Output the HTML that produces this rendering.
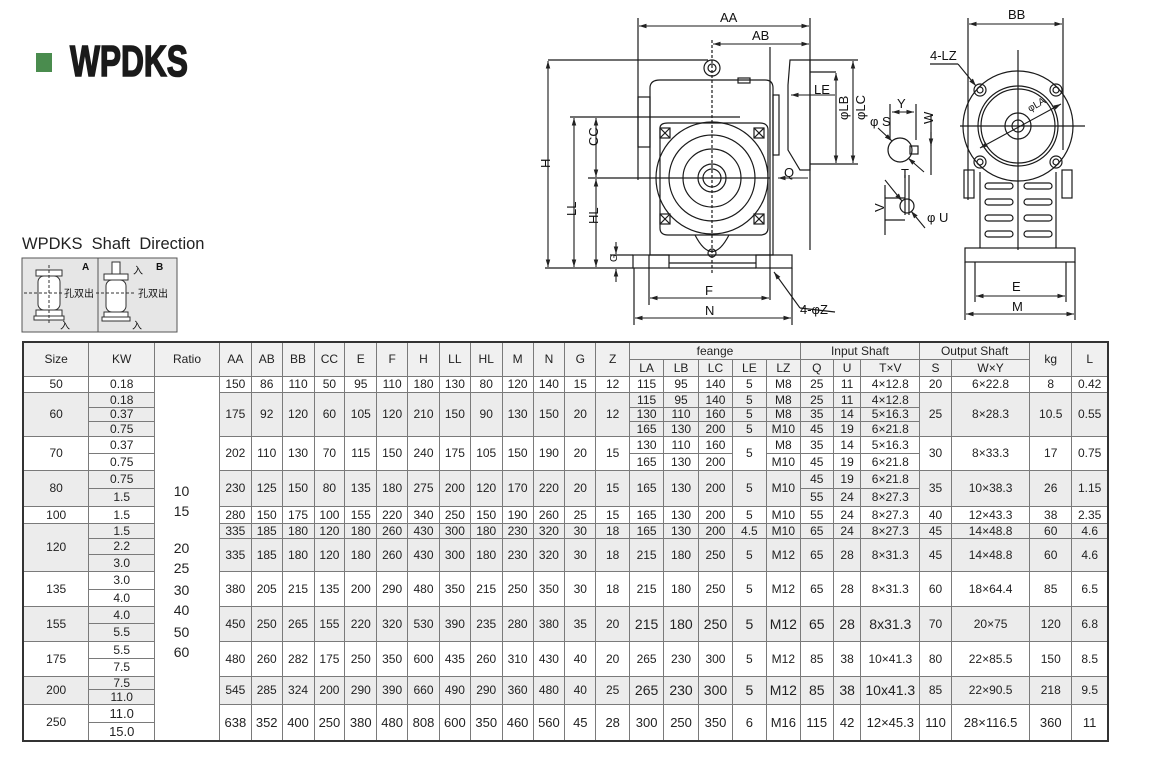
<!DOCTYPE html>
<html><head><meta charset="utf-8">
<style>
html,body{margin:0;padding:0;background:#fff;}
body{width:1150px;height:770px;position:relative;overflow:hidden;font-family:"Liberation Sans","Noto Sans CJK SC",sans-serif;color:#222;}
.abs{position:absolute;}
table{position:absolute;left:22px;top:341px;width:1087px;border-collapse:collapse;table-layout:fixed;border:2px solid #333;}
td{border:1px solid #7a7a7a;padding:0;text-align:center;vertical-align:middle;font-size:12px;line-height:1;white-space:nowrap;overflow:hidden;}
td.gg{background:#ececec;}
.hd td{background:#f0f0f0;}
td.big{font-size:14px;}
td.m{font-size:13px;}
.rt{position:absolute;left:150px;width:63px;text-align:center;font-size:14px;}
</style></head><body>

<div class="abs" style="left:36px;top:53px;width:16px;height:19px;background:#4a8c4e;"></div>
<div class="abs" style="left:70px;top:37px;font-size:44px;font-weight:bold;color:#1a1a1a;transform:scaleX(0.72);transform-origin:0 0;-webkit-text-stroke:1.6px #1a1a1a;">WPDKS</div>

<div class="abs" style="left:22px;top:235px;font-size:16.5px;">WPDKS&nbsp;&nbsp;Shaft&nbsp;&nbsp;Direction</div>
<svg class="abs" style="left:0;top:0" width="1150" height="340" viewBox="0 0 1150 340">
 <defs>
  <marker id="a" viewBox="0 0 10 10" refX="10" refY="5" markerWidth="7" markerHeight="7" orient="auto-start-reverse"><path d="M0 2 L10 5 L0 8 Z" fill="#222"/></marker>
 </defs>
 <g fill="none" stroke="#333" stroke-width="1">
  <rect x="22" y="258" width="155" height="74" fill="#e6e6e6" stroke="#555"/>
  <line x1="98" y1="258" x2="98" y2="332" stroke="#555"/>
  <rect x="36" y="270" width="26" height="6" fill="#fff"/>
  <rect x="38" y="276" width="22" height="34" rx="6" fill="#fff"/>
  <rect x="36" y="310" width="26" height="6" fill="#fff"/>
  <rect x="34" y="316" width="30" height="4" fill="#fff"/>
  <line x1="24" y1="293" x2="64" y2="293" stroke-dasharray="3,2"/>
  <line x1="49" y1="265" x2="49" y2="324" stroke-dasharray="3,2"/>
  <rect x="112" y="262" width="8" height="12" fill="#fff"/>
  <rect x="104" y="274" width="24" height="6" fill="#fff"/>
  <rect x="106" y="280" width="20" height="32" rx="6" fill="#fff"/>
  <rect x="104" y="312" width="24" height="5" fill="#fff"/>
  <rect x="102" y="317" width="28" height="4" fill="#fff"/>
  <line x1="96" y1="293" x2="136" y2="293" stroke-dasharray="3,2"/>
 </g>
 <g font-size="10" fill="#111" font-family="Liberation Sans,Noto Sans CJK SC,sans-serif">
  <text x="82" y="270" font-weight="bold">A</text>
  <text x="156" y="270" font-weight="bold">B</text>
  <text x="64" y="297">孔双出</text>
  <text x="138" y="297">孔双出</text>
  <text x="60" y="329">入</text>
  <text x="133" y="274">入</text>
  <text x="132" y="329">入</text>
 </g>

 <g fill="none" stroke="#1a1a1a" stroke-width="1.2">
  <line x1="638" y1="18" x2="638" y2="180"/>
  <line x1="810" y1="18" x2="810" y2="250"/>
  <line x1="770" y1="47" x2="770" y2="300"/>
  <line x1="712" y1="40" x2="712" y2="275" stroke-dasharray="3,2"/>
  <circle cx="712" cy="68" r="8"/><circle cx="712" cy="68" r="4"/>
  <rect x="738" y="78" width="12" height="5"/>
  <path d="M650 88 Q650 80 660 80 L765 80 Q773 80 773 88 L773 255 L650 255 Z"/>
  <rect x="638" y="97" width="12" height="50"/>
  <rect x="773" y="95" width="6" height="60"/>
  <path d="M790 60 L810 60 L810 170 L800 170 L788 150 L788 85 Z"/>
  <path d="M660 128 Q660 123 668 123 L760 123 Q768 123 768 130 L768 228 Q768 235 760 235 L668 235 Q660 235 660 228 Z"/>
  <circle cx="712" cy="178" r="56"/>
  <circle cx="712" cy="178" r="43"/>
  <circle cx="712" cy="178" r="29"/>
  <circle cx="712" cy="178" r="14"/>
  <circle cx="712" cy="178" r="9"/>
  <g>
   <rect x="660" y="128" width="10" height="10"/><line x1="660" y1="128" x2="670" y2="138"/><line x1="670" y1="128" x2="660" y2="138"/>
   <rect x="754" y="128" width="10" height="10"/><line x1="754" y1="128" x2="764" y2="138"/><line x1="764" y1="128" x2="754" y2="138"/>
   <rect x="660" y="214" width="10" height="10"/><line x1="660" y1="214" x2="670" y2="224"/><line x1="670" y1="214" x2="660" y2="224"/>
   <rect x="754" y="214" width="10" height="10"/><line x1="754" y1="214" x2="764" y2="224"/><line x1="764" y1="214" x2="754" y2="224"/>
  </g>
  <path d="M695 235 Q712 268 729 235"/>
  <circle cx="712" cy="253" r="4"/>
  <rect x="633" y="255" width="36" height="13"/>
  <rect x="756" y="255" width="36" height="13"/>
  <line x1="669" y1="263" x2="756" y2="263"/><line x1="669" y1="268" x2="756" y2="268"/>
  <line x1="548" y1="60" x2="708" y2="60"/>
  <line x1="570" y1="117" x2="740" y2="117"/>
  <line x1="588" y1="178" x2="770" y2="178"/>
  <line x1="545" y1="268" x2="633" y2="268"/>
  <line x1="610" y1="255" x2="633" y2="255"/>
  <line x1="649" y1="255" x2="649" y2="305"/>
  <line x1="634" y1="268" x2="634" y2="325"/>
  <line x1="792" y1="268" x2="792" y2="325"/>
  <line x1="800" y1="308" x2="835" y2="312"/>
  <line x1="810" y1="60" x2="858" y2="60"/>
  <line x1="810" y1="164" x2="858" y2="164"/>
  <line x1="836" y1="72" x2="810" y2="72"/>
  <circle cx="900" cy="150" r="12"/>
  <rect x="910" y="146" width="8" height="8"/>
  <line x1="890" y1="104" x2="890" y2="140"/><line x1="916" y1="104" x2="916" y2="140"/>
  <line x1="931" y1="115" x2="931" y2="175"/>
  <circle cx="907" cy="206" r="7"/>
  <line x1="905" y1="175" x2="905" y2="215"/><line x1="909" y1="175" x2="909" y2="215"/>
  <line x1="885" y1="198" x2="905" y2="198"/><line x1="885" y1="220" x2="905" y2="220"/>
  <line x1="885" y1="185" x2="885" y2="235"/>
  <line x1="968" y1="18" x2="968" y2="200"/><line x1="1063" y1="18" x2="1063" y2="150"/>
  <circle cx="1018" cy="126" r="55"/>
  <circle cx="1018" cy="126" r="40"/>
  <circle cx="1018" cy="126" r="37"/>
  <circle cx="1018" cy="126" r="13"/>
  <circle cx="1018" cy="126" r="6"/>
  <line x1="960" y1="126" x2="1085" y2="126"/>
  <line x1="1018" y1="50" x2="1018" y2="250"/>
  <circle cx="980" cy="90" r="6"/><circle cx="980" cy="90" r="3"/>
  <circle cx="1056" cy="90" r="6"/><circle cx="1056" cy="90" r="3"/>
  <circle cx="980" cy="162" r="6"/><circle cx="980" cy="162" r="3"/>
  <circle cx="1056" cy="162" r="6"/><circle cx="1056" cy="162" r="3"/>
  <line x1="930" y1="64" x2="958" y2="64"/>
  <path d="M980 172 L980 248 M1056 172 L1056 248"/>
  <rect x="964" y="170" width="10" height="28"/>
  <rect x="1062" y="170" width="10" height="28"/>
  <g>
   <rect x="985" y="183" width="28" height="6" rx="3"/><rect x="1024" y="183" width="28" height="6" rx="3"/>
   <rect x="985" y="199" width="28" height="6" rx="3"/><rect x="1024" y="199" width="28" height="6" rx="3"/>
   <rect x="985" y="215" width="28" height="6" rx="3"/><rect x="1024" y="215" width="28" height="6" rx="3"/>
   <rect x="985" y="231" width="28" height="6" rx="3"/><rect x="1024" y="231" width="28" height="6" rx="3"/>
  </g>
  <rect x="965" y="248" width="110" height="14"/>
  <line x1="965" y1="262" x2="965" y2="320"/><line x1="1075" y1="262" x2="1075" y2="320"/>
  <line x1="975" y1="262" x2="975" y2="302"/><line x1="1066" y1="262" x2="1066" y2="302"/>
 </g>
 <!-- dimension lines with arrowheads -->
 <g fill="none" stroke="#1a1a1a" stroke-width="1.1" marker-start="url(#a)" marker-end="url(#a)">
  <line x1="639" y1="26" x2="809" y2="26"/>
  <line x1="713" y1="44" x2="809" y2="44"/>
  <line x1="548" y1="61" x2="548" y2="267"/>
  <line x1="574" y1="118" x2="574" y2="267"/>
  <line x1="596" y1="118" x2="596" y2="177"/>
  <line x1="596" y1="179" x2="596" y2="267"/>
  <line x1="650" y1="298" x2="769" y2="298"/>
  <line x1="635" y1="318" x2="791" y2="318"/>
  <line x1="836" y1="73" x2="836" y2="163"/>
  <line x1="853" y1="61" x2="853" y2="163"/>
  <line x1="892" y1="112" x2="914" y2="112"/>
  <line x1="1061" y1="104" x2="980" y2="148"/>
  <line x1="969" y1="24" x2="1062" y2="24"/>
  <line x1="976" y1="296" x2="1065" y2="296"/>
  <line x1="966" y1="314" x2="1074" y2="314"/>
 </g>
 <g fill="none" stroke="#1a1a1a" stroke-width="1.1" marker-end="url(#a)">
  <line x1="616" y1="242" x2="616" y2="254"/>
  <line x1="616" y1="282" x2="616" y2="269"/>
  <line x1="800" y1="308" x2="774" y2="272"/>
  <line x1="835" y1="95" x2="791" y2="95"/>
  <line x1="808" y1="178" x2="778" y2="178"/>
  <line x1="878" y1="128" x2="892" y2="141"/>
  <line x1="924" y1="172" x2="908" y2="158"/>
  <line x1="931" y1="132" x2="931" y2="146"/>
  <line x1="885" y1="180" x2="902" y2="201"/>
  <line x1="925" y1="228" x2="911" y2="211"/>
  <line x1="958" y1="64" x2="976" y2="86"/>
 </g>
 <g font-size="13" fill="#111" font-family="Liberation Sans,sans-serif">
  <text x="720" y="22">AA</text>
  <text x="752" y="40">AB</text>
  <text x="546" y="172" transform="rotate(-90 546 168)">H</text>
  <text x="572" y="220" transform="rotate(-90 572 216)">LL</text>
  <text x="594" y="150" transform="rotate(-90 594 146)">CC</text>
  <text x="594" y="228" transform="rotate(-90 594 224)">HL</text>
  <text x="613" y="266" transform="rotate(-90 613 262)" font-size="10">G</text>
  <text x="705" y="295">F</text>
  <text x="705" y="315">N</text>
  <text x="800" y="314">4-φZ</text>
  <text x="814" y="94">LE</text>
  <text x="834" y="134" transform="rotate(-90 834 120)">φLB</text>
  <text x="851" y="134" transform="rotate(-90 851 120)">φLC</text>
  <text x="784" y="177">Q</text>
  <text x="897" y="108">Y</text>
  <text x="870" y="126">φ S</text>
  <text x="929" y="128" transform="rotate(-90 929 124)">W</text>
  <text x="901" y="178">T</text>
  <text x="880" y="216" transform="rotate(-90 880 212)">V</text>
  <text x="927" y="222">φ U</text>
  <text x="1008" y="19">BB</text>
  <text x="930" y="60">4-LZ</text>
  <text x="1030" y="112" font-size="10" transform="rotate(-30 1030 112)">φLA</text>
  <text x="1012" y="291">E</text>
  <text x="1012" y="311">M</text>
 </g>
</svg>

<table>
<colgroup>
<col style="width:64px"><col style="width:64px"><col style="width:63px">
<col style="width:31px"><col style="width:30px"><col style="width:31px"><col style="width:30px"><col style="width:31px"><col style="width:30px"><col style="width:31px"><col style="width:30px"><col style="width:31px"><col style="width:30px"><col style="width:31px"><col style="width:30px">
<col style="width:33px">
<col style="width:33px"><col style="width:34px"><col style="width:33px"><col style="width:33px"><col style="width:33px">
<col style="width:32px"><col style="width:27px"><col style="width:57px">
<col style="width:31px"><col style="width:76px"><col style="width:41px"><col style="width:35px">
</colgroup>
<tr class="hd" style="height:17px"><td rowspan="2">Size</td><td rowspan="2">KW</td><td rowspan="2">Ratio</td><td rowspan="2">AA</td><td rowspan="2">AB</td><td rowspan="2">BB</td><td rowspan="2">CC</td><td rowspan="2">E</td><td rowspan="2">F</td><td rowspan="2">H</td><td rowspan="2">LL</td><td rowspan="2">HL</td><td rowspan="2">M</td><td rowspan="2">N</td><td rowspan="2">G</td><td rowspan="2">Z</td><td colspan="5">feange</td><td colspan="3">Input Shaft</td><td colspan="2">Output Shaft</td><td rowspan="2">kg</td><td rowspan="2">L</td></tr>
<tr class="hd" style="height:17px"><td>LA</td><td>LB</td><td>LC</td><td>LE</td><td>LZ</td><td>Q</td><td>U</td><td>T×V</td><td>S</td><td>W×Y</td></tr>
<tr style="height:16px"><td>50</td><td>0.18</td><td rowspan="22" style="background:#fff"></td><td>150</td><td>86</td><td>110</td><td>50</td><td>95</td><td>110</td><td>180</td><td>130</td><td>80</td><td>120</td><td>140</td><td>15</td><td>12</td><td>115</td><td>95</td><td>140</td><td>5</td><td>M8</td><td>25</td><td>11</td><td>4×12.8</td><td>20</td><td>6×22.8</td><td>8</td><td>0.42</td></tr>
<tr style="height:15px"><td rowspan="3" class="gg">60</td><td class="gg">0.18</td><td rowspan="3" class="gg">175</td><td rowspan="3" class="gg">92</td><td rowspan="3" class="gg">120</td><td rowspan="3" class="gg">60</td><td rowspan="3" class="gg">105</td><td rowspan="3" class="gg">120</td><td rowspan="3" class="gg">210</td><td rowspan="3" class="gg">150</td><td rowspan="3" class="gg">90</td><td rowspan="3" class="gg">130</td><td rowspan="3" class="gg">150</td><td rowspan="3" class="gg">20</td><td rowspan="3" class="gg">12</td><td class="gg">115</td><td class="gg">95</td><td class="gg">140</td><td class="gg">5</td><td class="gg">M8</td><td class="gg">25</td><td class="gg">11</td><td class="gg">4×12.8</td><td rowspan="3" class="gg">25</td><td rowspan="3" class="gg">8×28.3</td><td rowspan="3" class="gg">10.5</td><td rowspan="3" class="gg">0.55</td></tr>
<tr style="height:14px"><td class="gg">0.37</td><td class="gg">130</td><td class="gg">110</td><td class="gg">160</td><td class="gg">5</td><td class="gg">M8</td><td class="gg">35</td><td class="gg">14</td><td class="gg">5×16.3</td></tr>
<tr style="height:15px"><td class="gg">0.75</td><td class="gg">165</td><td class="gg">130</td><td class="gg">200</td><td class="gg">5</td><td class="gg">M10</td><td class="gg">45</td><td class="gg">19</td><td class="gg">6×21.8</td></tr>
<tr style="height:17px"><td rowspan="2">70</td><td>0.37</td><td rowspan="2">202</td><td rowspan="2">110</td><td rowspan="2">130</td><td rowspan="2">70</td><td rowspan="2">115</td><td rowspan="2">150</td><td rowspan="2">240</td><td rowspan="2">175</td><td rowspan="2">105</td><td rowspan="2">150</td><td rowspan="2">190</td><td rowspan="2">20</td><td rowspan="2">15</td><td>130</td><td>110</td><td>160</td><td rowspan="2">5</td><td>M8</td><td>35</td><td>14</td><td>5×16.3</td><td rowspan="2">30</td><td rowspan="2">8×33.3</td><td rowspan="2">17</td><td rowspan="2">0.75</td></tr>
<tr style="height:17px"><td>0.75</td><td>165</td><td>130</td><td>200</td><td>M10</td><td>45</td><td>19</td><td>6×21.8</td></tr>
<tr style="height:18px"><td rowspan="2" class="gg">80</td><td class="gg">0.75</td><td rowspan="2" class="gg">230</td><td rowspan="2" class="gg">125</td><td rowspan="2" class="gg">150</td><td rowspan="2" class="gg">80</td><td rowspan="2" class="gg">135</td><td rowspan="2" class="gg">180</td><td rowspan="2" class="gg">275</td><td rowspan="2" class="gg">200</td><td rowspan="2" class="gg">120</td><td rowspan="2" class="gg">170</td><td rowspan="2" class="gg">220</td><td rowspan="2" class="gg">20</td><td rowspan="2" class="gg">15</td><td rowspan="2" class="gg">165</td><td rowspan="2" class="gg">130</td><td rowspan="2" class="gg">200</td><td rowspan="2" class="gg">5</td><td rowspan="2" class="gg">M10</td><td class="gg">45</td><td class="gg">19</td><td class="gg">6×21.8</td><td rowspan="2" class="gg">35</td><td rowspan="2" class="gg">10×38.3</td><td rowspan="2" class="gg">26</td><td rowspan="2" class="gg">1.15</td></tr>
<tr style="height:18px"><td class="gg">1.5</td><td class="gg">55</td><td class="gg">24</td><td class="gg">8×27.3</td></tr>
<tr style="height:17px"><td>100</td><td>1.5</td><td>280</td><td>150</td><td>175</td><td>100</td><td>155</td><td>220</td><td>340</td><td>250</td><td>150</td><td>190</td><td>260</td><td>25</td><td>15</td><td>165</td><td>130</td><td>200</td><td>5</td><td>M10</td><td>55</td><td>24</td><td>8×27.3</td><td>40</td><td>12×43.3</td><td>38</td><td>2.35</td></tr>
<tr style="height:15px"><td rowspan="3" class="gg">120</td><td class="gg">1.5</td><td class="gg">335</td><td class="gg">185</td><td class="gg">180</td><td class="gg">120</td><td class="gg">180</td><td class="gg">260</td><td class="gg">430</td><td class="gg">300</td><td class="gg">180</td><td class="gg">230</td><td class="gg">320</td><td class="gg">30</td><td class="gg">18</td><td class="gg">165</td><td class="gg">130</td><td class="gg">200</td><td class="gg">4.5</td><td class="gg">M10</td><td class="gg">65</td><td class="gg">24</td><td class="gg">8×27.3</td><td class="gg">45</td><td class="gg">14×48.8</td><td class="gg">60</td><td class="gg">4.6</td></tr>
<tr style="height:16px"><td class="gg">2.2</td><td rowspan="2" class="gg">335</td><td rowspan="2" class="gg">185</td><td rowspan="2" class="gg">180</td><td rowspan="2" class="gg">120</td><td rowspan="2" class="gg">180</td><td rowspan="2" class="gg">260</td><td rowspan="2" class="gg">430</td><td rowspan="2" class="gg">300</td><td rowspan="2" class="gg">180</td><td rowspan="2" class="gg">230</td><td rowspan="2" class="gg">320</td><td rowspan="2" class="gg">30</td><td rowspan="2" class="gg">18</td><td rowspan="2" class="gg">215</td><td rowspan="2" class="gg">180</td><td rowspan="2" class="gg">250</td><td rowspan="2" class="gg">5</td><td rowspan="2" class="gg">M12</td><td rowspan="2" class="gg">65</td><td rowspan="2" class="gg">28</td><td rowspan="2" class="gg">8×31.3</td><td rowspan="2" class="gg">45</td><td rowspan="2" class="gg">14×48.8</td><td rowspan="2" class="gg">60</td><td rowspan="2" class="gg">4.6</td></tr>
<tr style="height:17px"><td class="gg">3.0</td></tr>
<tr style="height:18px"><td rowspan="2">135</td><td>3.0</td><td rowspan="2">380</td><td rowspan="2">205</td><td rowspan="2">215</td><td rowspan="2">135</td><td rowspan="2">200</td><td rowspan="2">290</td><td rowspan="2">480</td><td rowspan="2">350</td><td rowspan="2">215</td><td rowspan="2">250</td><td rowspan="2">350</td><td rowspan="2">30</td><td rowspan="2">18</td><td rowspan="2">215</td><td rowspan="2">180</td><td rowspan="2">250</td><td rowspan="2">5</td><td rowspan="2">M12</td><td rowspan="2">65</td><td rowspan="2">28</td><td rowspan="2">8×31.3</td><td rowspan="2">60</td><td rowspan="2">18×64.4</td><td rowspan="2">85</td><td rowspan="2">6.5</td></tr>
<tr style="height:17px"><td>4.0</td></tr>
<tr style="height:17px"><td rowspan="2" class="gg">155</td><td class="gg">4.0</td><td rowspan="2" class="gg">450</td><td rowspan="2" class="gg">250</td><td rowspan="2" class="gg">265</td><td rowspan="2" class="gg">155</td><td rowspan="2" class="gg">220</td><td rowspan="2" class="gg">320</td><td rowspan="2" class="gg">530</td><td rowspan="2" class="gg">390</td><td rowspan="2" class="gg">235</td><td rowspan="2" class="gg">280</td><td rowspan="2" class="gg">380</td><td rowspan="2" class="gg">35</td><td rowspan="2" class="gg">20</td><td rowspan="2" class="gg big">215</td><td rowspan="2" class="gg big">180</td><td rowspan="2" class="gg big">250</td><td rowspan="2" class="gg big">5</td><td rowspan="2" class="gg big">M12</td><td rowspan="2" class="gg big">65</td><td rowspan="2" class="gg big">28</td><td rowspan="2" class="gg big">8x31.3</td><td rowspan="2" class="gg">70</td><td rowspan="2" class="gg">20×75</td><td rowspan="2" class="gg">120</td><td rowspan="2" class="gg">6.8</td></tr>
<tr style="height:18px"><td class="gg">5.5</td></tr>
<tr style="height:17px"><td rowspan="2">175</td><td>5.5</td><td rowspan="2">480</td><td rowspan="2">260</td><td rowspan="2">282</td><td rowspan="2">175</td><td rowspan="2">250</td><td rowspan="2">350</td><td rowspan="2">600</td><td rowspan="2">435</td><td rowspan="2">260</td><td rowspan="2">310</td><td rowspan="2">430</td><td rowspan="2">40</td><td rowspan="2">20</td><td rowspan="2">265</td><td rowspan="2">230</td><td rowspan="2">300</td><td rowspan="2">5</td><td rowspan="2">M12</td><td rowspan="2">85</td><td rowspan="2">38</td><td rowspan="2">10×41.3</td><td rowspan="2">80</td><td rowspan="2">22×85.5</td><td rowspan="2">150</td><td rowspan="2">8.5</td></tr>
<tr style="height:18px"><td>7.5</td></tr>
<tr style="height:13px"><td rowspan="2" class="gg">200</td><td class="gg">7.5</td><td rowspan="2" class="gg">545</td><td rowspan="2" class="gg">285</td><td rowspan="2" class="gg">324</td><td rowspan="2" class="gg">200</td><td rowspan="2" class="gg">290</td><td rowspan="2" class="gg">390</td><td rowspan="2" class="gg">660</td><td rowspan="2" class="gg">490</td><td rowspan="2" class="gg">290</td><td rowspan="2" class="gg">360</td><td rowspan="2" class="gg">480</td><td rowspan="2" class="gg">40</td><td rowspan="2" class="gg">25</td><td rowspan="2" class="gg big">265</td><td rowspan="2" class="gg big">230</td><td rowspan="2" class="gg big">300</td><td rowspan="2" class="gg big">5</td><td rowspan="2" class="gg big">M12</td><td rowspan="2" class="gg big">85</td><td rowspan="2" class="gg big">38</td><td rowspan="2" class="gg big">10x41.3</td><td rowspan="2" class="gg">85</td><td rowspan="2" class="gg">22×90.5</td><td rowspan="2" class="gg">218</td><td rowspan="2" class="gg">9.5</td></tr>
<tr style="height:15px"><td class="gg">11.0</td></tr>
<tr style="height:18px"><td rowspan="2">250</td><td class="m">11.0</td><td rowspan="2" class="m">638</td><td rowspan="2" class="m">352</td><td rowspan="2" class="m">400</td><td rowspan="2" class="m">250</td><td rowspan="2" class="m">380</td><td rowspan="2" class="m">480</td><td rowspan="2" class="m">808</td><td rowspan="2" class="m">600</td><td rowspan="2" class="m">350</td><td rowspan="2" class="m">460</td><td rowspan="2" class="m">560</td><td rowspan="2" class="m">45</td><td rowspan="2" class="m">28</td><td rowspan="2" class="m">300</td><td rowspan="2" class="m">250</td><td rowspan="2" class="m">350</td><td rowspan="2" class="m">6</td><td rowspan="2" class="m">M16</td><td rowspan="2" class="m">115</td><td rowspan="2" class="m">42</td><td rowspan="2" class="m">12×45.3</td><td rowspan="2" class="m">110</td><td rowspan="2" class="m">28×116.5</td><td rowspan="2" class="m">360</td><td rowspan="2" class="m">11</td></tr>
<tr style="height:19px"><td class="m">15.0</td></tr>
</table>

<div class="rt" style="top:483px">10</div>
<div class="rt" style="top:503px">15</div>
<div class="rt" style="top:540px">20</div>
<div class="rt" style="top:560px">25</div>
<div class="rt" style="top:582px">30</div>
<div class="rt" style="top:602px">40</div>
<div class="rt" style="top:624px">50</div>
<div class="rt" style="top:644px">60</div>
</body></html>
